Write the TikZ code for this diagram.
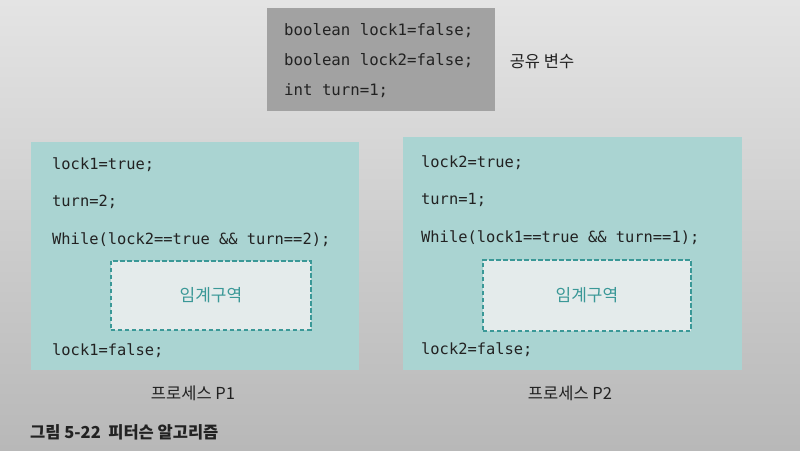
\documentclass[tikz,border=0pt]{standalone}
\usepackage{fontspec}
\setmonofont{DejaVu Sans Mono}
\newfontfamily\kr{Noto Sans CJK KR}
\definecolor{bgtop}{HTML}{E4E4E4}
\definecolor{bgbot}{HTML}{B8B8B8}
\definecolor{sharedgray}{HTML}{A2A2A2}
\definecolor{tealbox}{HTML}{AAD4D2}
\definecolor{innerfill}{HTML}{E4EBEB}
\definecolor{dashteal}{HTML}{3A9897}
\definecolor{codetxt}{HTML}{222222}
\begin{document}
\begin{tikzpicture}[x=1pt,y=-1pt,
  code/.style={font=\ttfamily\fontsize{15.4}{18}\selectfont, anchor=west, inner sep=0pt, text=codetxt},
  topcode/.style={code, font=\ttfamily\fontsize{15.7}{18}\selectfont},
  procbox/.style={fill=tealbox, draw=none, anchor=north west, inner sep=0pt},
  critbox/.style={fill=innerfill, draw=dashteal, line width=1.8pt, dash pattern=on 4.5pt off 2.5pt, anchor=north west, inner sep=0pt},
  crittext/.style={font=\kr\fontsize{17}{20}\selectfont, text=dashteal},
  krlabel/.style={font=\kr\fontsize{16.5}{20}\selectfont, text=codetxt, inner sep=0pt}]
\shade[top color=bgtop, bottom color=bgbot] (0,0) rectangle (800,450);
\useasboundingbox (0,0) rectangle (800,450);
% shared variables
\node[fill=sharedgray, anchor=north west, inner sep=0pt, minimum width=228pt, minimum height=103pt] (shared) at (267,8) {};
\node[topcode] (s1) at (284,31) {boolean lock1=false;};
\node[topcode] (s2) at (284,61) {boolean lock2=false;};
\node[topcode] (s3) at (284,91) {int turn=1;};
\node[krlabel] (sharedlbl) at (542,61) {공유 변수};
% process P1
\node[procbox, minimum width=328pt, minimum height=228pt] (p1) at (31,142) {};
\node[code] (a1) at (52,165) {lock1=true;};
\node[code] (a2) at (52,202) {turn=2;};
\node[code] (a3) at (52,240) {While(lock2==true \&\& turn==2);};
\node[critbox, minimum width=200pt, minimum height=69pt] (c1) at (110,260) {};
\node[crittext] (c1t) at (c1.center) {임계구역};
\node[code] (a4) at (52,351) {lock1=false;};
\node[krlabel] (p1lbl) at (193,393) {프로세스 P1};
% process P2
\node[procbox, minimum width=339pt, minimum height=233pt] (p2) at (403,137) {};
\node[code] (b1) at (421,163) {lock2=true;};
\node[code] (b2) at (421,200) {turn=1;};
\node[code] (b3) at (421,238) {While(lock1==true \&\& turn==1);};
\node[critbox, minimum width=208pt, minimum height=71pt] (c2) at (482,259) {};
\node[crittext] (c2t) at (c2.center) {임계구역};
\node[code] (b4) at (421,350) {lock2=false;};
\node[krlabel] (p2lbl) at (570,393) {프로세스 P2};
% caption
\node[font=\kr\bfseries\fontsize{16.5}{20}\selectfont, text=codetxt, anchor=west, inner sep=0pt] (cap) at (30,432) {그림 5-22\ \ 피터슨 알고리즘};
\end{tikzpicture}
\end{document}
